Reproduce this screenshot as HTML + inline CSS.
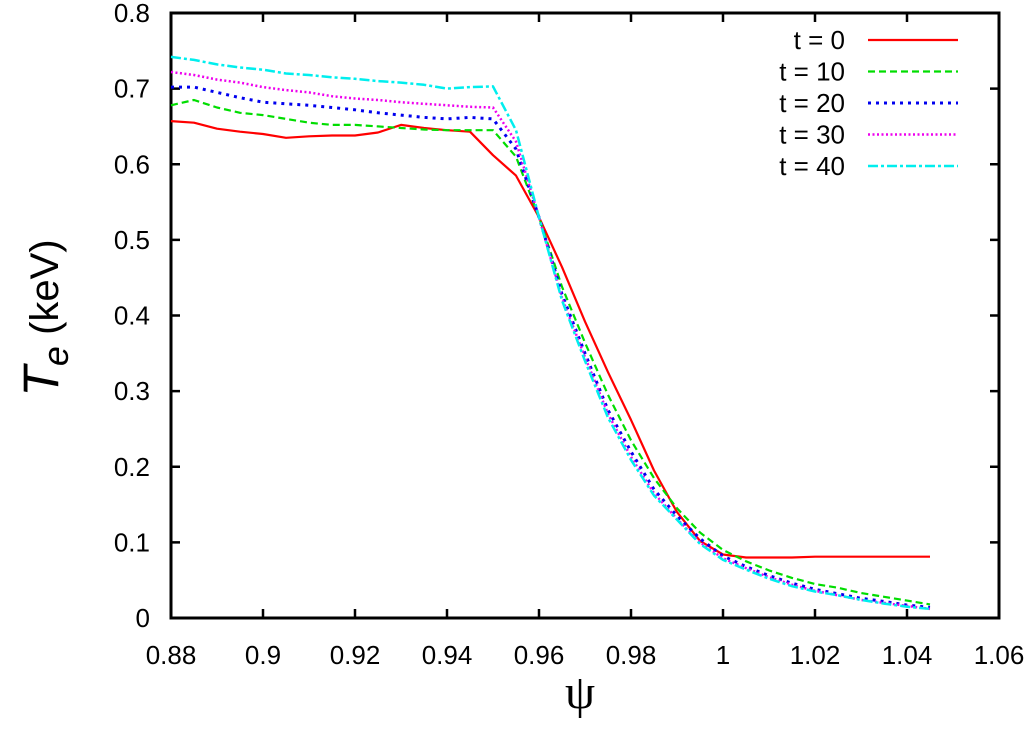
<!DOCTYPE html>
<html><head><meta charset="utf-8"><style>
html,body{margin:0;padding:0;background:#fff}
svg{display:block}
text{font-family:"Liberation Sans",sans-serif;fill:#000}
</style></head><body>
<svg id="chart" width="1034" height="737" viewBox="0 0 1034 737" xmlns="http://www.w3.org/2000/svg">
<g id="axes"></g><g id="series"></g><g id="legend"></g>
<text x="580" y="708" font-size="48" text-anchor="middle" style="font-family:'Liberation Serif',serif">ψ</text>
<text transform="translate(58,318) rotate(-90)" text-anchor="middle" font-size="40"><tspan font-style="italic" font-size="50">T</tspan><tspan font-style="italic" font-size="36" dy="10">e</tspan><tspan dy="-10"> (keV)</tspan></text>
</svg>
<script>
const xs=[0.88,0.885,0.89,0.895,0.9,0.905,0.91,0.915,0.92,0.925,0.93,0.935,0.94,0.945,0.95,0.955,0.96,0.965,0.97,0.975,0.98,0.985,0.99,0.995,1.0,1.005,1.01,1.015,1.02,1.025,1.03,1.035,1.04,1.045];
const t0=[0.657,0.655,0.647,0.643,0.640,0.635,0.637,0.638,0.638,0.642,0.652,0.648,0.645,0.643,0.612,0.585,0.530,0.464,0.392,0.325,0.262,0.195,0.140,0.102,0.084,0.080,0.080,0.080,0.081,0.081,0.081,0.081,0.081,0.081];
const t10=[0.678,0.685,0.675,0.668,0.665,0.660,0.655,0.652,0.652,0.650,0.648,0.646,0.645,0.645,0.645,0.610,0.530,0.438,0.364,0.295,0.235,0.185,0.145,0.113,0.090,0.075,0.063,0.053,0.045,0.040,0.033,0.028,0.023,0.018];
const t20=[0.702,0.702,0.695,0.688,0.682,0.680,0.678,0.675,0.672,0.668,0.665,0.662,0.660,0.662,0.660,0.620,0.530,0.428,0.350,0.275,0.220,0.170,0.135,0.105,0.082,0.068,0.056,0.046,0.038,0.032,0.026,0.022,0.017,0.014];
const t30=[0.722,0.718,0.712,0.708,0.702,0.698,0.695,0.690,0.687,0.685,0.682,0.680,0.678,0.676,0.675,0.630,0.530,0.423,0.345,0.270,0.213,0.165,0.131,0.100,0.079,0.066,0.054,0.044,0.036,0.030,0.024,0.020,0.016,0.012];
const t40=[0.742,0.738,0.732,0.728,0.725,0.720,0.718,0.715,0.713,0.710,0.708,0.705,0.700,0.702,0.703,0.645,0.530,0.420,0.340,0.265,0.209,0.162,0.130,0.098,0.077,0.064,0.052,0.042,0.035,0.030,0.024,0.019,0.015,0.012];
const xTicks=["0.88","0.9","0.92","0.94","0.96","0.98","1","1.02","1.04","1.06"];
const yTicks=["0","0.1","0.2","0.3","0.4","0.5","0.6","0.7","0.8"];
const labels=["t = 0","t = 10","t = 20","t = 30","t = 40"];

const NS="http://www.w3.org/2000/svg";
const L=171,R=999,T=13,B=618;
const X=v=>L+(v-0.88)/(1.06-0.88)*(R-L);
const Y=v=>B-v/0.8*(B-T);
function mk(tag,attrs,parent){const e=document.createElementNS(NS,tag);for(const k in attrs)e.setAttribute(k,attrs[k]);parent.appendChild(e);return e;}
const ax=document.getElementById('axes');
const frame=mk('rect',{x:L,y:T,width:R-L,height:B-T,fill:'none',stroke:'#000','stroke-width':3},ax);


xTicks.forEach(s=>{const v=parseFloat(s),x=X(v);
 const t=mk('path',{d:`M${x},${B}v-9M${x},${T}v9`,stroke:'#000','stroke-width':2.5},ax);
 
 
 const tx=mk('text',{x:x,y:664,'font-size':26,'text-anchor':'middle'},ax);tx.textContent=s;
 
 
});
yTicks.forEach(s=>{const v=parseFloat(s),y=Y(v);
 const t=mk('path',{d:`M${L},${y}h9M${R},${y}h-9`,stroke:'#000','stroke-width':2.5},ax);
 
 
 const tx=mk('text',{x:150,y:y+9,'font-size':26,'text-anchor':'end'},ax);tx.textContent=s;
 
 
});
const data=[t0,t10,t20,t30,t40];
const colors=['#ff0000','#00dd00','#0000ee','#ee00ee','#00eeee'];
const dashes=['none','7,4','3,5','2,2.5','10,3,3,3'];
const widths=[2.2,2.2,3,2.5,2.5];
const sg=document.getElementById('series'),lg=document.getElementById('legend');
data.forEach((arr,i)=>{
 const d=arr.map((v,j)=>(j?'L':'M')+X(xs[j]).toFixed(1)+','+Y(v).toFixed(1)).join('');
 const p=mk('path',{d:d,fill:'none',stroke:colors[i],'stroke-width':widths[i],'stroke-dasharray':dashes[i],'stroke-linejoin':'round'},sg);
 
 
 const ly=40+i*31.5;
 const tx=mk('text',{x:845,y:ly+9,'font-size':26,'text-anchor':'end'},lg);tx.textContent=labels[i];
 
 
 const ln=mk('path',{d:`M868,${ly}H958`,stroke:colors[i],'stroke-width':widths[i],'stroke-dasharray':dashes[i]},lg);
 
 
});
</script>
</body></html>
